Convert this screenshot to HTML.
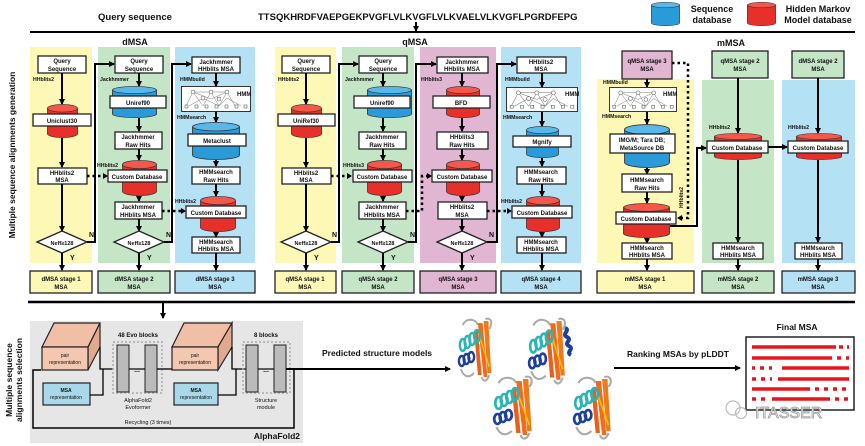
<!DOCTYPE html>
<html><head><meta charset="utf-8"><style>
html,body{margin:0;padding:0;background:#fff}
svg{display:block}
text{font-family:"Liberation Sans",Arial,sans-serif;font-weight:bold;fill:#111}
.t{font-size:6px;text-anchor:middle}
.s{font-size:5.2px}
.b{fill:#fff;stroke:#222;stroke-width:1.3}
.l{stroke:#000;stroke-width:2;fill:none}
.d{stroke:#000;stroke-width:2.5;fill:none;stroke-dasharray:2.5,3}
</style></head><body>
<svg width="865" height="446" viewBox="0 0 865 446" xmlns="http://www.w3.org/2000/svg">
<defs>
<marker id="a" markerWidth="6" markerHeight="6" refX="5" refY="3" orient="auto" markerUnits="userSpaceOnUse"><path d="M0,0 L6,3 L0,6z" fill="#000"/></marker>
<symbol id="rc" viewBox="0 0 40 40" preserveAspectRatio="none"><rect x="0.5" y="5" width="39" height="30" fill="#e8302a"/><ellipse cx="20" cy="35" rx="19.5" ry="4.5" fill="#e8302a" stroke="#333" stroke-width="0.8"/><rect x="0.5" y="5" width="39" height="30" fill="#e8302a"/><path d="M0.5,5V35M39.5,5V35" stroke="#333" stroke-width="0.8"/><ellipse cx="20" cy="5" rx="19.5" ry="4.5" fill="#f5574a" stroke="#333" stroke-width="0.8"/></symbol>
<symbol id="bc" viewBox="0 0 40 40" preserveAspectRatio="none"><ellipse cx="20" cy="35" rx="19.5" ry="4.5" fill="#2a9ad8" stroke="#333" stroke-width="0.8"/><rect x="0.5" y="5" width="39" height="30" fill="#2a9ad8"/><path d="M0.5,5V35M39.5,5V35" stroke="#333" stroke-width="0.8"/><ellipse cx="20" cy="5" rx="19.5" ry="4.5" fill="#58b8ea" stroke="#333" stroke-width="0.8"/></symbol>
<symbol id="hmm" viewBox="0 0 70 26" preserveAspectRatio="none"><rect x="0.5" y="0.5" width="69" height="25" fill="#fff" stroke="#333"/><g stroke="#777" stroke-width="0.5" fill="none"><path d="M5,20 L12,6 L22,20 L30,6 L38,20 L46,6 L54,20 M12,6 L22,6 L30,6 L46,6 M8,20L22,12L38,20L46,12L60,20M12,6L30,13L46,6"/></g><g fill="#fff" stroke="#444" stroke-width="0.5"><circle cx="12" cy="6" r="2"/><circle cx="30" cy="6" r="2"/><circle cx="46" cy="6" r="2"/><circle cx="22" cy="12" r="2"/><circle cx="38" cy="13" r="2"/><rect x="4" y="19" width="3" height="3"/><rect x="14" y="19" width="3" height="3"/><rect x="24" y="19" width="3" height="3"/><rect x="34" y="19" width="3" height="3"/><rect x="44" y="19" width="3" height="3"/><rect x="54" y="19" width="3" height="3"/><rect x="63" y="19" width="3" height="3"/></g></symbol>
<symbol id="pr" viewBox="0 0 40 65" preserveAspectRatio="none">
<path d="M6,8 C10,0 20,2 22,8 M30,2 C36,0 38,6 34,12 M4,52 C8,62 14,60 18,56 M26,60 C28,66 32,64 34,58" stroke="#aaa" stroke-width="2" fill="none"/>
<polygon points="22,6 27,6 32,60 28,60" fill="#f26b1d"/><polygon points="28,4 33,4 36,56 32,56" fill="#ef7a1a"/><polygon points="18,14 22,14 26,58 22,58" fill="#e8601a"/>
<path d="M24,20 L34,50" stroke="#f5c400" stroke-width="1.5"/>
<g fill="none" stroke="#2ab4b4" stroke-width="2.5"><ellipse cx="6" cy="28" rx="3" ry="6"/><ellipse cx="11" cy="25" rx="3" ry="6"/><ellipse cx="16" cy="22" rx="3" ry="6"/><ellipse cx="21" cy="19" rx="3" ry="6"/></g>
<g fill="none" stroke="#1d3f9e" stroke-width="2.5"><ellipse cx="5" cy="44" rx="3" ry="5"/><ellipse cx="10" cy="42" rx="3" ry="5"/><ellipse cx="15" cy="40" rx="3" ry="5"/></g>
</symbol>
</defs>

<!-- top -->
<text x="135" y="20" style="font-size:9.5px" text-anchor="middle">Query sequence</text>
<text x="258" y="20" style="font-size:9.5px">TTSQKHRDFVAEPGEKPVGFLVLKVGFLVLKVAELVLKVGFLPGRDFEPG</text>
<line class="l" x1="416" y1="22" x2="416" y2="31" stroke-width="1.2" marker-end="url(#a)"/>
<line x1="30" y1="32" x2="855" y2="32" stroke="#000" stroke-width="2"/>
<use href="#bc" x="651" y="2" width="29" height="24"/>
<text x="712" y="12" style="font-size:9px" text-anchor="middle">Sequence</text><text x="712" y="23" style="font-size:9px" text-anchor="middle">database</text>
<use href="#rc" x="747" y="2" width="29" height="24"/>
<text x="818" y="12" style="font-size:9px" text-anchor="middle">Hidden Markov</text><text x="818" y="23" style="font-size:9px" text-anchor="middle">Model database</text>
<text x="135" y="45" style="font-size:9px" text-anchor="middle">dMSA</text>
<text x="415" y="45" style="font-size:9px" text-anchor="middle">qMSA</text>
<text x="731" y="46" style="font-size:9px" text-anchor="middle">mMSA</text>
<text transform="translate(15,155) rotate(-90)" style="font-size:8.5px" text-anchor="middle">Multiple sequence alignments generation</text>

<!-- column backgrounds -->
<rect x="30" y="47" width="62" height="216" fill="#fdf8b5"/>
<rect x="98" y="47" width="72" height="216" fill="#c4e6c6"/>
<rect x="175" y="47" width="80" height="216" fill="#b5e1f5"/>
<rect x="275" y="47" width="61" height="216" fill="#fdf8b5"/>
<rect x="342" y="47" width="72" height="216" fill="#c4e6c6"/>
<rect x="420" y="47" width="76" height="216" fill="#e0b6d2"/>
<rect x="501" y="47" width="80" height="216" fill="#b5e1f5"/>
<rect x="597" y="79" width="97" height="184" fill="#fdf8b5"/>
<rect x="702" y="80" width="72" height="183" fill="#c4e6c6"/>
<rect x="782" y="80" width="73" height="183" fill="#b5e1f5"/>

<!-- bottom labels -->
<g stroke="#222" stroke-width="1.3">
<rect x="30" y="271" width="62" height="22" fill="#fdf8b5"/><rect x="98" y="271" width="72" height="22" fill="#c4e6c6"/><rect x="175" y="271" width="80" height="22" fill="#b5e1f5"/>
<rect x="275" y="271" width="61" height="22" fill="#fdf8b5"/><rect x="342" y="271" width="72" height="22" fill="#c4e6c6"/><rect x="420" y="271" width="76" height="22" fill="#e0b6d2"/><rect x="501" y="271" width="80" height="22" fill="#b5e1f5"/>
<rect x="597" y="271" width="97" height="22" fill="#fdf8b5"/><rect x="702" y="271" width="72" height="22" fill="#c4e6c6"/><rect x="782" y="271" width="73" height="22" fill="#b5e1f5"/>
</g>
<g class="t">
<text x="61" y="281" class="t">dMSA stage 1</text><text x="61" y="289" class="t">MSA</text>
<text x="134" y="281" class="t">dMSA stage 2</text><text x="134" y="289" class="t">MSA</text>
<text x="215" y="281" class="t">dMSA stage 3</text><text x="215" y="289" class="t">MSA</text>
<text x="305" y="281" class="t">qMSA stage 1</text><text x="305" y="289" class="t">MSA</text>
<text x="378" y="281" class="t">qMSA stage 2</text><text x="378" y="289" class="t">MSA</text>
<text x="458" y="281" class="t">qMSA stage 3</text><text x="458" y="289" class="t">MSA</text>
<text x="541" y="281" class="t">qMSA stage 4</text><text x="541" y="289" class="t">MSA</text>
<text x="645" y="281" class="t">mMSA stage 1</text><text x="645" y="289" class="t">MSA</text>
<text x="738" y="281" class="t">mMSA stage 2</text><text x="738" y="289" class="t">MSA</text>
<text x="818" y="281" class="t">mMSA stage 3</text><text x="818" y="289" class="t">MSA</text>
</g>

<!-- dMSA1 -->
<rect class="b" x="38" y="56" width="48" height="17"/><text class="t" x="62" y="63">Query</text><text class="t" x="62" y="71">Sequence</text>
<text class="s" x="33" y="81">HHblits2</text>
<line class="l" x1="62" y1="73" x2="62" y2="104" marker-end="url(#a)"/>
<use href="#rc" x="47" y="104" width="31" height="34"/>
<rect class="b" x="33" y="114" width="58" height="12"/><text class="t" x="62" y="123">Uniclust30</text>
<line class="l" x1="62" y1="138" x2="62" y2="167" marker-end="url(#a)"/>
<rect class="b" x="38" y="168" width="49" height="16"/><text class="t" x="62" y="175">HHblits2</text><text class="t" x="62" y="182">MSA</text>
<line class="l" x1="62" y1="184" x2="62" y2="231" marker-end="url(#a)"/>
<polygon class="b" points="37,242 62,231 87,242 62,253"/><text class="t" x="62" y="245" style="font-size:5.5px">Neff≥128</text>
<line class="l" x1="62" y1="253" x2="62" y2="270" marker-end="url(#a)"/>
<text x="70" y="260" style="font-size:7px">Y</text><text x="89" y="237" style="font-size:7px">N</text>
<path class="l" d="M87,242H95V64H114" marker-end="url(#a)"/>
<path class="d" d="M87,176H106"/><path d="M103,173L108,176L103,179z"/>

<!-- dMSA2 -->
<rect class="b" x="115" y="56" width="48" height="17"/><text class="t" x="139" y="63">Query</text><text class="t" x="139" y="71">Sequence</text>
<text class="s" x="100" y="81">Jackhmmer</text>
<line class="l" x1="139" y1="73" x2="139" y2="86" marker-end="url(#a)"/>
<use href="#bc" x="112" y="86" width="45" height="32"/>
<rect class="b" x="110" y="96" width="56" height="12"/><text class="t" x="138" y="105">Uniref90</text>
<line class="l" x1="139" y1="118" x2="139" y2="131" marker-end="url(#a)"/>
<rect class="b" x="115" y="132" width="47" height="17"/><text class="t" x="138" y="139">Jackhmmer</text><text class="t" x="138" y="147">Raw Hits</text>
<line class="l" x1="139" y1="149" x2="139" y2="160" marker-end="url(#a)"/>
<use href="#rc" x="122" y="160" width="35" height="36"/>
<text class="s" x="97" y="167">HHblits2</text>
<rect class="b" x="108" y="170" width="59" height="12"/><text class="t" x="137" y="179">Custom Database</text>
<line class="l" x1="139" y1="196" x2="139" y2="201" marker-end="url(#a)"/>
<rect class="b" x="115" y="202" width="47" height="17"/><text class="t" x="138" y="209">Jackhmmer</text><text class="t" x="138" y="217">HHblits MSA</text>
<line class="l" x1="139" y1="219" x2="139" y2="231" marker-end="url(#a)"/>
<polygon class="b" points="114,242 139,231 164,242 139,253"/><text class="t" x="139" y="245" style="font-size:5.5px">Neff≥128</text>
<line class="l" x1="139" y1="253" x2="139" y2="270" marker-end="url(#a)"/>
<text x="147" y="260" style="font-size:7px">Y</text><text x="166" y="237" style="font-size:7px">N</text>
<path class="l" d="M164,242H172V64H191" marker-end="url(#a)"/>
<path class="d" d="M162,211H183"/><path d="M181,208L186,211L181,214z"/>

<!-- dMSA3 -->
<rect class="b" x="192" y="57" width="48" height="16"/><text class="t" x="216" y="64">Jackhmmer</text><text class="t" x="216" y="71">HHblits MSA</text>
<text class="s" x="180" y="81">HMMbuild</text>
<line class="l" x1="216" y1="73" x2="216" y2="86" marker-end="url(#a)"/>
<use href="#hmm" x="181" y="86" width="70" height="26"/><text x="237" y="96" style="font-size:6px">HMM</text>
<text class="s" x="177" y="119">HMMsearch</text>
<line class="l" x1="216" y1="112" x2="216" y2="122" marker-end="url(#a)"/>
<use href="#bc" x="192" y="122" width="48" height="38"/>
<rect class="b" x="188" y="134" width="58" height="12"/><text class="t" x="217" y="143">Metaclust</text>
<line class="l" x1="216" y1="160" x2="216" y2="166" marker-end="url(#a)"/>
<rect class="b" x="192" y="167" width="48" height="17"/><text class="t" x="216" y="174">HMMsearch</text><text class="t" x="216" y="182">Raw Hits</text>
<line class="l" x1="216" y1="184" x2="216" y2="196" marker-end="url(#a)"/>
<use href="#rc" x="200" y="196" width="36" height="36"/>
<text class="s" x="175" y="203">HHblits2</text>
<rect class="b" x="186" y="206" width="60" height="12"/><text class="t" x="216" y="215">Custom Database</text>
<line class="l" x1="216" y1="232" x2="216" y2="237" marker-end="url(#a)"/>
<rect class="b" x="192" y="237" width="48" height="16"/><text class="t" x="216" y="244">HMMsearch</text><text class="t" x="216" y="251">HHblits MSA</text>
<line class="l" x1="216" y1="253" x2="216" y2="270" marker-end="url(#a)"/>

<!-- qMSA1 -->
<rect class="b" x="282" y="56" width="48" height="17"/><text class="t" x="306" y="63">Query</text><text class="t" x="306" y="71">Sequence</text>
<text class="s" x="278" y="81">HHblits2</text>
<line class="l" x1="306" y1="73" x2="306" y2="104" marker-end="url(#a)"/>
<use href="#rc" x="291" y="104" width="31" height="34"/>
<rect class="b" x="278" y="114" width="57" height="12"/><text class="t" x="306" y="123">UniRef30</text>
<line class="l" x1="306" y1="138" x2="306" y2="167" marker-end="url(#a)"/>
<rect class="b" x="282" y="168" width="49" height="16"/><text class="t" x="306" y="175">HHblits2</text><text class="t" x="306" y="182">MSA</text>
<line class="l" x1="306" y1="184" x2="306" y2="231" marker-end="url(#a)"/>
<polygon class="b" points="281,242 306,231 331,242 306,253"/><text class="t" x="306" y="245" style="font-size:5.5px">Neff≥128</text>
<line class="l" x1="306" y1="253" x2="306" y2="270" marker-end="url(#a)"/>
<text x="314" y="260" style="font-size:7px">Y</text><text x="332" y="237" style="font-size:7px">N</text>
<path class="l" d="M331,242H339V64H358" marker-end="url(#a)"/>
<path class="d" d="M331,176H350"/><path d="M347,173L352,176L347,179z"/>

<!-- qMSA2 -->
<rect class="b" x="359" y="56" width="48" height="17"/><text class="t" x="383" y="63">Query</text><text class="t" x="383" y="71">Sequence</text>
<text class="s" x="345" y="81">Jackhmmer</text>
<line class="l" x1="383" y1="73" x2="383" y2="86" marker-end="url(#a)"/>
<use href="#bc" x="367" y="86" width="45" height="32"/>
<rect class="b" x="354" y="96" width="56" height="12"/><text class="t" x="382" y="105">Uniref90</text>
<line class="l" x1="383" y1="118" x2="383" y2="131" marker-end="url(#a)"/>
<rect class="b" x="359" y="132" width="47" height="17"/><text class="t" x="382" y="139">Jackhmmer</text><text class="t" x="382" y="147">Raw Hits</text>
<line class="l" x1="383" y1="149" x2="383" y2="160" marker-end="url(#a)"/>
<use href="#rc" x="367" y="160" width="35" height="36"/>
<text class="s" x="343" y="167">HHblits3</text>
<rect class="b" x="353" y="170" width="59" height="12"/><text class="t" x="382" y="179">Custom Database</text>
<line class="l" x1="383" y1="196" x2="383" y2="201" marker-end="url(#a)"/>
<rect class="b" x="359" y="202" width="47" height="17"/><text class="t" x="382" y="209">Jackhmmer</text><text class="t" x="382" y="217">HHblits MSA</text>
<line class="l" x1="383" y1="219" x2="383" y2="231" marker-end="url(#a)"/>
<polygon class="b" points="358,242 383,231 408,242 383,253"/><text class="t" x="383" y="245" style="font-size:5.5px">Neff≥128</text>
<line class="l" x1="383" y1="253" x2="383" y2="270" marker-end="url(#a)"/>
<text x="391" y="260" style="font-size:7px">Y</text><text x="410" y="237" style="font-size:7px">N</text>
<path class="l" d="M408,242H416V64H436" marker-end="url(#a)"/>
<path class="d" d="M406,211H422V176H428"/><path d="M427,173L432,176L427,179z"/>

<!-- qMSA3 -->
<rect class="b" x="437" y="57" width="51" height="16"/><text class="t" x="462" y="64">Jackhmmer</text><text class="t" x="462" y="71">HHblits MSA</text>
<text class="s" x="421" y="81">HHblits3</text>
<line class="l" x1="462" y1="73" x2="462" y2="86" marker-end="url(#a)"/>
<use href="#rc" x="446" y="86" width="34" height="32"/>
<rect class="b" x="433" y="96" width="57" height="12"/><text class="t" x="461" y="105">BFD</text>
<line class="l" x1="462" y1="118" x2="462" y2="131" marker-end="url(#a)"/>
<rect class="b" x="437" y="132" width="51" height="17"/><text class="t" x="462" y="139">HHblits3</text><text class="t" x="462" y="147">Raw Hits</text>
<line class="l" x1="462" y1="149" x2="462" y2="160" marker-end="url(#a)"/>
<use href="#rc" x="446" y="160" width="34" height="36"/>
<rect class="b" x="432" y="170" width="60" height="12"/><text class="t" x="462" y="179">Custom Database</text>
<line class="l" x1="462" y1="196" x2="462" y2="201" marker-end="url(#a)"/>
<rect class="b" x="438" y="202" width="49" height="17"/><text class="t" x="462" y="209">HHblits2</text><text class="t" x="462" y="217">MSA</text>
<line class="l" x1="462" y1="219" x2="462" y2="231" marker-end="url(#a)"/>
<polygon class="b" points="437,242 462,231 487,242 462,253"/><text class="t" x="462" y="245" style="font-size:5.5px">Neff≥128</text>
<line class="l" x1="462" y1="253" x2="462" y2="270" marker-end="url(#a)"/>
<text x="470" y="260" style="font-size:7px">Y</text><text x="489" y="237" style="font-size:7px">N</text>
<path class="l" d="M487,242H497V64H516" marker-end="url(#a)"/>
<path class="d" d="M487,211H508"/><path d="M507,208L512,211L507,214z"/>

<!-- qMSA4 -->
<rect class="b" x="517" y="57" width="49" height="16"/><text class="t" x="541" y="64">HHblits2</text><text class="t" x="541" y="71">MSA</text>
<text class="s" x="505" y="81">HMMbuild</text>
<line class="l" x1="542" y1="73" x2="542" y2="87" marker-end="url(#a)"/>
<use href="#hmm" x="506" y="87" width="72" height="25"/><text x="565" y="96" style="font-size:6px">HMM</text>
<text class="s" x="503" y="119">HMMsearch</text>
<line class="l" x1="542" y1="112" x2="542" y2="126" marker-end="url(#a)"/>
<use href="#bc" x="526" y="126" width="33" height="32"/>
<rect class="b" x="513" y="136" width="58" height="11"/><text class="t" x="542" y="144">Mgnify</text>
<line class="l" x1="542" y1="158" x2="542" y2="166" marker-end="url(#a)"/>
<rect class="b" x="517" y="167" width="49" height="17"/><text class="t" x="541" y="174">HMMsearch</text><text class="t" x="541" y="182">Raw Hits</text>
<line class="l" x1="542" y1="184" x2="542" y2="196" marker-end="url(#a)"/>
<use href="#rc" x="526" y="196" width="34" height="36"/>
<text class="s" x="501" y="203">HHblits2</text>
<rect class="b" x="512" y="206" width="60" height="12"/><text class="t" x="542" y="215">Custom Database</text>
<line class="l" x1="542" y1="232" x2="542" y2="237" marker-end="url(#a)"/>
<rect class="b" x="517" y="237" width="49" height="16"/><text class="t" x="541" y="244">HMMsearch</text><text class="t" x="541" y="251">HHblits MSA</text>
<line class="l" x1="542" y1="253" x2="542" y2="270" marker-end="url(#a)"/>

<!-- mMSA1 -->
<rect x="622" y="51" width="50" height="28" fill="#e0b6d2" stroke="#222" stroke-width="1.3"/><text class="t" x="647" y="63">qMSA stage 3</text><text class="t" x="647" y="71">MSA</text>
<line class="l" x1="647" y1="79" x2="647" y2="87" marker-end="url(#a)"/>
<text class="s" x="603" y="84">HMMbuild</text>
<use href="#hmm" x="609" y="87" width="68" height="25"/><text x="663" y="96" style="font-size:6px">HMM</text>
<text class="s" x="602" y="118">HMMsearch</text>
<line class="l" x1="647" y1="112" x2="647" y2="124" marker-end="url(#a)"/>
<use href="#bc" x="624" y="124" width="46" height="44"/>
<rect class="b" x="610" y="134" width="65" height="19"/><text class="t" x="642" y="142">IMG/M; Tara DB;</text><text class="t" x="642" y="150">MetaSource DB</text>
<line class="l" x1="647" y1="168" x2="647" y2="174" marker-end="url(#a)"/>
<rect class="b" x="622" y="174" width="50" height="18"/><text class="t" x="647" y="182">HMMsearch</text><text class="t" x="647" y="190">Raw Hits</text>
<line class="l" x1="647" y1="192" x2="647" y2="203" marker-end="url(#a)"/>
<use href="#rc" x="623" y="203" width="47" height="35"/>
<rect class="b" x="616" y="212" width="60" height="12"/><text class="t" x="646" y="221">Custom Database</text>
<line class="l" x1="647" y1="238" x2="647" y2="243" marker-end="url(#a)"/>
<rect class="b" x="622" y="243" width="50" height="16"/><text class="t" x="647" y="250">HMMsearch</text><text class="t" x="647" y="257">HHblits MSA</text>
<line class="l" x1="647" y1="259" x2="647" y2="270" marker-end="url(#a)"/>
<path class="d" d="M672,63H688V218H681"/><path d="M682,215L677,218L682,221z"/>
<text class="s" transform="translate(683,208) rotate(-90)">HHblits2</text>
<path class="l" d="M670,226H697V148H706" marker-end="url(#a)"/>

<!-- mMSA2 -->
<rect x="712" y="51" width="56" height="27" fill="#c4e6c6" stroke="#222" stroke-width="1.3"/><text class="t" x="740" y="63">qMSA stage 2</text><text class="t" x="740" y="71">MSA</text>
<line class="l" x1="738" y1="78" x2="738" y2="133" marker-end="url(#a)"/>
<text class="s" x="709" y="129">HHblits2</text>
<use href="#rc" x="714" y="133" width="48" height="27"/>
<rect class="b" x="707" y="141" width="61" height="12"/><text class="t" x="737" y="150">Custom Database</text>
<line class="l" x1="738" y1="160" x2="738" y2="242" marker-end="url(#a)"/>
<rect class="b" x="713" y="243" width="50" height="16"/><text class="t" x="738" y="250">HMMsearch</text><text class="t" x="738" y="257">HHblits MSA</text>
<line class="l" x1="738" y1="259" x2="738" y2="270" marker-end="url(#a)"/>
<line class="l" x1="768" y1="147" x2="787" y2="147" stroke-width="3" marker-end="url(#a)"/>

<!-- mMSA3 -->
<rect x="792" y="51" width="52" height="27" fill="#c4e6c6" stroke="#222" stroke-width="1.3"/><text class="t" x="818" y="63">dMSA stage 2</text><text class="t" x="818" y="71">MSA</text>
<line class="l" x1="818" y1="78" x2="818" y2="133" marker-end="url(#a)"/>
<text class="s" x="788" y="129">HHblits2</text>
<use href="#rc" x="796" y="133" width="46" height="27"/>
<rect class="b" x="788" y="141" width="60" height="12"/><text class="t" x="818" y="150">Custom Database</text>
<line class="l" x1="818" y1="160" x2="818" y2="242" marker-end="url(#a)"/>
<rect class="b" x="795" y="243" width="47" height="16"/><text class="t" x="818" y="250">HMMsearch</text><text class="t" x="818" y="257">HHblits MSA</text>
<line class="l" x1="818" y1="259" x2="818" y2="270" marker-end="url(#a)"/>

<!-- bottom section -->
<line x1="28" y1="302" x2="855" y2="302" stroke="#000" stroke-width="2.5"/>
<line class="l" x1="163" y1="302" x2="163" y2="318" stroke-width="1.5" marker-end="url(#a)"/>
<text transform="translate(12,380) rotate(-90)" style="font-size:8.5px" text-anchor="middle">Multiple sequence</text>
<text transform="translate(22,380) rotate(-90)" style="font-size:8.5px" text-anchor="middle">alignments selection</text>
<rect x="30" y="321" width="273" height="122" fill="#e6e6e6"/>
<!-- loop -->
<path d="M294,369V428H33V370H41" fill="none" stroke="#000" stroke-width="1.5"/>
<!-- pair1 -->
<polygon points="42,347 54,323 100,323 88,347" fill="#f0bfa6" stroke="#222" stroke-width="1.2"/>
<polygon points="88,347 100,323 100,347 88,370" fill="#e2a98f" stroke="#222" stroke-width="1.2"/>
<rect x="42" y="347" width="46" height="23" fill="#f4c7b0" stroke="#222" stroke-width="1.2"/>
<text class="t" x="65" y="357" style="font-size:5px;font-weight:normal">pair</text><text class="t" x="65" y="364" style="font-size:5px;font-weight:normal">representation</text>
<rect x="43" y="383" width="47" height="22" fill="#a9d8ea" stroke="#222" stroke-width="1.2"/>
<text class="t" x="66" y="392" style="font-size:5px">MSA</text><text class="t" x="66" y="399" style="font-size:5px;font-weight:normal">representation</text>
<path d="M100,347V369H113M90,395H103V369" fill="none" stroke="#000" stroke-width="1.3"/>
<text class="t" x="138" y="337" style="font-size:6px">48 Evo blocks</text>
<rect x="113" y="342" width="49" height="51" fill="none" stroke="#aaa" stroke-width="1.5" stroke-dasharray="2,2"/>
<rect x="117" y="345" width="12" height="47" fill="#bbb" stroke="#222"/><rect x="145" y="345" width="12" height="47" fill="#bbb" stroke="#222"/>
<text class="t" x="137" y="372" style="font-size:7px">...</text>
<text class="t" x="138" y="402" style="font-size:5.5px;font-weight:normal">AlphaFold2</text><text class="t" x="138" y="409" style="font-size:5.5px;font-weight:normal">Evoformer</text>
<line x1="129" y1="369" x2="145" y2="369" stroke="#000" stroke-width="1.2"/>
<line x1="157" y1="369" x2="172" y2="369" stroke="#000" stroke-width="1.3"/>
<!-- pair2 -->
<polygon points="172,347 184,323 232,323 218,347" fill="#f0bfa6" stroke="#222" stroke-width="1.2"/>
<polygon points="218,347 232,323 232,347 218,370" fill="#e2a98f" stroke="#222" stroke-width="1.2"/>
<rect x="172" y="347" width="46" height="23" fill="#f4c7b0" stroke="#222" stroke-width="1.2"/>
<text class="t" x="195" y="357" style="font-size:5px;font-weight:normal">pair</text><text class="t" x="195" y="364" style="font-size:5px;font-weight:normal">representation</text>
<rect x="174" y="383" width="44" height="22" fill="#a9d8ea" stroke="#222" stroke-width="1.2"/>
<text class="t" x="196" y="392" style="font-size:5px">MSA</text><text class="t" x="196" y="399" style="font-size:5px;font-weight:normal">representation</text>
<path d="M232,347V369H246M218,395H236V369" fill="none" stroke="#000" stroke-width="1.3"/>
<text class="t" x="266" y="337" style="font-size:6px">8 blocks</text>
<rect x="243" y="342" width="47" height="51" fill="none" stroke="#aaa" stroke-width="1.5" stroke-dasharray="2,2"/>
<rect x="246" y="345" width="12" height="47" fill="#bbb" stroke="#222"/><rect x="274" y="345" width="12" height="47" fill="#bbb" stroke="#222"/>
<text class="t" x="266" y="372" style="font-size:7px">...</text>
<line x1="258" y1="369" x2="274" y2="369" stroke="#000" stroke-width="1.2"/>
<text class="t" x="266" y="402" style="font-size:5.5px;font-weight:normal">Structure</text><text class="t" x="266" y="409" style="font-size:5.5px;font-weight:normal">module</text>
<text class="t" x="148" y="424" style="font-size:5.5px;font-weight:normal">Recycling (3 times)</text>
<text x="300" y="439" style="font-size:8.5px" text-anchor="end">AlphaFold2</text>
<line class="l" x1="286" y1="369" x2="450" y2="369" marker-end="url(#a)"/>
<text x="377" y="356" style="font-size:8.5px" text-anchor="middle">Predicted structure models</text>
<use href="#pr" x="457" y="317" width="38" height="65"/>
<use href="#pr" x="527" y="317" width="42" height="68"/>
<path d="M565,328c6,2 -4,6 2,9c6,3 -4,6 2,9c6,3 -4,6 2,9" stroke="#1d3f9e" stroke-width="4" fill="none"/>
<use href="#pr" x="492" y="375" width="44" height="65"/>
<use href="#pr" x="572" y="375" width="43" height="65"/>
<line class="l" x1="614" y1="368" x2="740" y2="368" marker-end="url(#a)"/>
<text x="678" y="357" style="font-size:8.5px" text-anchor="middle">Ranking MSAs by pLDDT</text>
<text x="797" y="330" style="font-size:8.5px" text-anchor="middle">Final MSA</text>
<rect x="746" y="337" width="108" height="73" fill="#fff" stroke="#222" stroke-width="1.5"/>
<g stroke="#e8141c" stroke-width="3.5">
<line x1="752" y1="347" x2="836" y2="347"/><line x1="839" y1="347" x2="843" y2="347"/><line x1="847" y1="347" x2="849" y2="347"/>
<line x1="752" y1="358" x2="832" y2="358"/><line x1="837" y1="358" x2="841" y2="358"/><line x1="846" y1="358" x2="849" y2="358"/>
<line x1="752" y1="368" x2="755" y2="368" stroke-dasharray="3,5"/><line x1="760" y1="368" x2="772" y2="368" stroke-dasharray="4,5"/><line x1="782" y1="368" x2="849" y2="368"/>
<line x1="752" y1="379" x2="772" y2="379" stroke-dasharray="4,5"/><line x1="778" y1="379" x2="849" y2="379"/>
<line x1="752" y1="389" x2="810" y2="389"/><line x1="815" y1="389" x2="849" y2="389" stroke-dasharray="4,5"/>
<line x1="752" y1="399" x2="770" y2="399" stroke-dasharray="4,5"/><line x1="772" y1="399" x2="830" y2="399"/><line x1="835" y1="399" x2="849" y2="399" stroke-dasharray="4,5"/>
</g>
<text x="755" y="418" style="font-size:16px;font-weight:normal;fill:#fff;stroke:#999;stroke-width:0.8">ITASSER</text>
<circle cx="733" cy="408" r="7" fill="none" stroke="#bbb" stroke-width="1.2"/><circle cx="741" cy="413" r="5.5" fill="none" stroke="#bbb" stroke-width="1.2"/>
</svg>
</body></html>
